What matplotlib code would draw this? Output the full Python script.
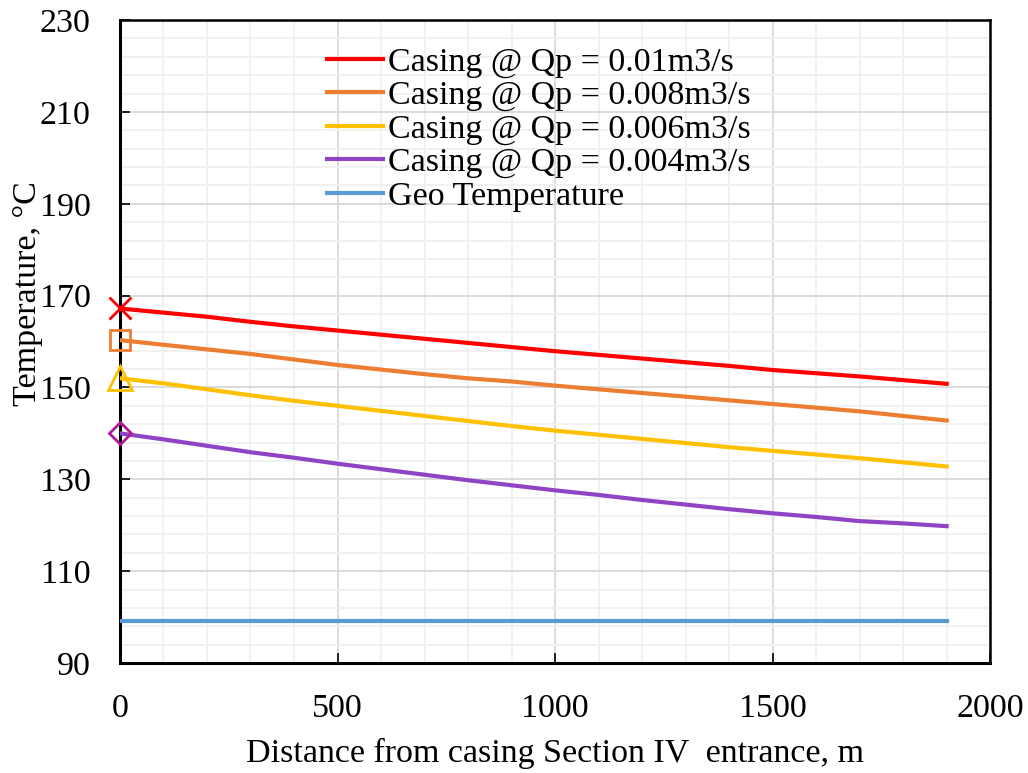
import matplotlib.pyplot as plt
from matplotlib.ticker import MultipleLocator

# Distance along casing section (m)
distance = [0, 100, 200, 300, 400, 500, 600, 700, 800, 900, 1000,
            1100, 1200, 1300, 1400, 1500, 1600, 1700, 1800, 1900]

# Casing temperatures for each production rate (deg C)
t_q010 = [167.2, 166.3, 165.4, 164.3, 163.3, 162.4, 161.5, 160.6, 159.7, 158.8, 157.9,
          157.1, 156.3, 155.5, 154.7, 153.8, 153.1, 152.4, 151.6, 150.8]
t_q008 = [160.3, 159.3, 158.3, 157.3, 156.1, 154.9, 153.9, 152.9, 152.0, 151.3, 150.4,
          149.6, 148.8, 148.0, 147.2, 146.4, 145.6, 144.8, 143.8, 142.8]
t_q006 = [152.0, 150.9, 149.6, 148.3, 147.1, 146.0, 144.9, 143.8, 142.7, 141.6, 140.6,
          139.7, 138.8, 137.9, 137.0, 136.2, 135.4, 134.6, 133.7, 132.8]
t_q004 = [140.0, 138.7, 137.3, 135.9, 134.7, 133.4, 132.2, 131.0, 129.8, 128.7, 127.6,
          126.6, 125.5, 124.5, 123.5, 122.6, 121.8, 120.9, 120.4, 119.8]
t_geo = [99.1] * len(distance)

labels = ['Casing @ Qp = 0.01m3/s', 'Casing @ Qp = 0.008m3/s',
          'Casing @ Qp = 0.006m3/s', 'Casing @ Qp = 0.004m3/s', 'Geo Temperature']

plt.rcParams['font.family'] = ['Liberation Serif', 'DejaVu Serif']
plt.rcParams['font.size'] = 24.5

fig = plt.figure(figsize=(10.28, 7.73), dpi=100)
ax = fig.add_axes([0.1167, 0.1423, 0.8465, 0.8317])

colors = ['#ff0000', '#ed7d31', '#ffc000', '#8e44c4', '#5b9bd5']
series = [t_q010, t_q008, t_q006, t_q004, t_geo]
for s, c, lab in zip(series, colors, labels):
    ax.plot(distance, s, color=c, lw=3, label=lab, zorder=3)

# Start-point markers
ax.plot(distance[0], t_q010[0], marker='x', ms=16, mew=2, color='#ff0000',
        ls='none', zorder=4, clip_on=False)
ax.plot(distance[0], t_q008[0], marker='s', ms=15, mew=2, mfc='none', mec='#ed7d31',
        ls='none', zorder=4, clip_on=False)
ax.plot(distance[0], t_q006[0], marker='^', ms=17, mew=2, mfc='none', mec='#ffc000',
        ls='none', zorder=4, clip_on=False)
ax.plot(distance[0], t_q004[0], marker='D', ms=11, mew=2, mfc='none', mec='#b0179b',
        ls='none', zorder=4, clip_on=False)

ax.set_xlim(0, 2000)
ax.set_ylim(90, 230)
ax.xaxis.set_major_locator(MultipleLocator(500))
ax.xaxis.set_minor_locator(MultipleLocator(100))
ax.yaxis.set_major_locator(MultipleLocator(20, offset=10))
ax.yaxis.set_minor_locator(MultipleLocator(4, offset=2))

ax.grid(True, which='major', color='#d9d9d9', lw=1.3, zorder=0)
ax.grid(True, which='minor', color='#f0f0f0', lw=1.3, zorder=0)
ax.set_axisbelow(True)

ax.tick_params(which='major', direction='in', length=7, width=1.2)
ax.tick_params(axis='x', which='major', pad=22)
ax.tick_params(axis='y', which='major', pad=21)
ax.tick_params(which='minor', length=0)

for side in ['left', 'bottom']:
    ax.spines[side].set_linewidth(2.2)
for side in ['top', 'right']:
    ax.spines[side].set_linewidth(1.8)

ax.set_xlabel('Distance from casing Section IV  entrance, m', labelpad=10)
ax.set_ylabel('Temperature, °C')
ax.yaxis.set_label_coords(-0.088, 0.574)

ax.legend(loc='upper left', bbox_to_anchor=(0.214, 0.99), frameon=False,
          handlelength=1.65, handletextpad=0.15, labelspacing=0.07, borderaxespad=0.2)

fig.savefig('out.png', dpi=100)
